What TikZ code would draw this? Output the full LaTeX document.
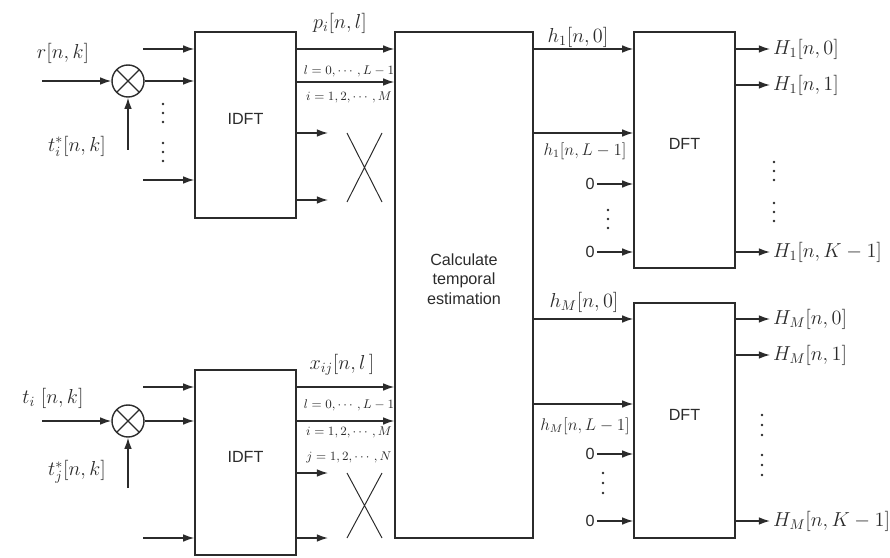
\documentclass[tikz,border=0pt]{standalone}
\usepackage{amsmath,amssymb}
\usepackage{fontspec}
\newfontfamily\arialfont{Liberation Sans}
\usepackage{tikz}
\usetikzlibrary{arrows.meta}
\usetikzlibrary{fit}
\definecolor{ink}{HTML}{2B2B2B}

\tikzset{
  blk/.style={draw=ink, line width=1pt, inner sep=0pt, align=center, text=ink,
    font=\arialfont\fontsize{11.5}{14}\selectfont},
  sig/.style={draw=ink, line width=1pt, -{Latex[length=8pt,width=5.5pt]}},
  lbl/.style={text=ink, inner sep=2pt, font=\fontsize{14.4}{16}\selectfont},
  lblnarrow/.style={lbl, font=\fontsize{12}{14}\selectfont},
  idx/.style={text=ink, inner sep=0pt, font=\fontsize{9}{10}\selectfont},
  zero/.style={text=ink, inner sep=1.5pt, font=\arialfont\fontsize{11.5}{14}\selectfont},
  mult/.style={circle, draw=ink, line width=1pt, minimum size=0.8cm, inner sep=0pt,
    path picture={\draw[ink, line width=1pt]
      (path picture bounding box.south west) -- (path picture bounding box.north east)
      (path picture bounding box.north west) -- (path picture bounding box.south east);}}
}

\begin{document}
\begin{tikzpicture}[x=0.025cm, y=-0.025cm]
\useasboundingbox (0,0) rectangle (890,558);

    \node[blk, fit={(195,32) (296,218)}] (idftA) {IDFT};
    \node[blk, fit={(195,370) (296,555)}] (idftB) {IDFT};
    \node[blk, fit={(395,32) (533,538)}] (calc) {Calculate\\temporal\\estimation};
    \node[blk, fit={(634,32) (735,268)}] (dftA) {DFT};
    \node[blk, fit={(634,303) (735,538)}] (dftB) {DFT};
    \node[mult] (mulA) at (128,81) {};
    \node[mult] (mulB) at (128,421) {};

    % upper branch
    \coordinate (rin) at (42,81);
    \coordinate (tinA) at (128,150);
    \draw[sig] (rin) -- (mulA);
    \draw[sig] (tinA) -- (mulA);
    \node[lbl] (rlab) at (63,53) {$r[n,k]$};
    \node[lbl] (tlabA) at (77,146) {$t_i^*[n,k]$};
    \coordinate (inA1) at (143,49);
    \coordinate (inA3) at (143,180);
    \draw[sig] (inA1) -- (idftA.west |- inA1);
    \draw[sig] (mulA) -- (idftA.west |- mulA);
    \draw[sig] (inA3) -- (idftA.west |- inA3);
    \foreach \y in {104,113,122,143,152,161} \fill[ink] (163,\y) circle (1pt);

    \draw[sig] (idftA.east |- inA1) -- (calc.west |- inA1);
    \draw[sig] (idftA.east |- 0,82) -- (calc.west |- 0,82);
    \coordinate (xA1) at (328,133);
    \coordinate (xA2) at (328,200);
    \draw[sig] (idftA.east |- xA1) -- (xA1);
    \draw[sig] (idftA.east |- xA2) -- (xA2);
    \draw[ink, line width=0.7pt] (347,133) -- (382,202) (347,202) -- (382,133);
    \node[lbl] (plab) at (340,23) {$p_i[n,l]$};
    \node[idx] (lrA) at (349,71) {$l=0,\cdots,L-1$};
    \node[idx] (irA) at (349,97) {$i=1,2,\cdots,M$};

    \draw[sig] (calc.east |- inA1) -- (dftA.west |- inA1);
    \draw[sig] (calc.east |- 0,133) -- (dftA.west |- 0,133);
    \node[lbl] (hA0) at (578,37) {$h_1[n,0]$};
    \node[lblnarrow] (hAL) at (585,151) {$h_1[n,L-1]$};
    \node[zero] (zA1) at (590,184) {0};
    \node[zero] (zA2) at (590,252) {0};
    \draw[sig] (zA1) -- (dftA.west |- zA1);
    \draw[sig] (zA2) -- (dftA.west |- zA2);
    \foreach \y in {210,219,228} \fill[ink] (608,\y) circle (1pt);

    \node[lbl, anchor=west] (HA0) at (770,49) {$H_1[n,0]$};
    \node[lbl, anchor=west] (HA1) at (770,85) {$H_1[n,1]$};
    \node[lbl, anchor=west] (HAK) at (770,252) {$H_1[n,K-1]$};
    \draw[sig] (dftA.east |- HA0) -- (HA0);
    \draw[sig] (dftA.east |- HA1) -- (HA1);
    \draw[sig] (dftA.east |- HAK) -- (HAK);
    \foreach \y in {162,171,180,203,212,221} \fill[ink] (774,\y) circle (1pt);

    % lower branch
    \coordinate (tiin) at (42,421);
    \coordinate (tinB) at (128,488);
    \draw[sig] (tiin) -- (mulB);
    \draw[sig] (tinB) -- (mulB);
    \node[lbl] (tilab) at (53,398) {$t_i\;[n,k]$};
    \node[lbl] (tjlab) at (77,472) {$t_j^*[n,k]$};
    \coordinate (inB1) at (143,387);
    \coordinate (inB3) at (143,538);
    \draw[sig] (inB1) -- (idftB.west |- inB1);
    \draw[sig] (mulB) -- (idftB.west |- mulB);
    \draw[sig] (inB3) -- (idftB.west |- inB3);

    \draw[sig] (idftB.east |- inB1) -- (calc.west |- inB1);
    \draw[sig] (idftB.east |- mulB) -- (calc.west |- mulB);
    \coordinate (xB1) at (328,473);
    \coordinate (xB2) at (328,538);
    \draw[sig] (idftB.east |- xB1) -- (xB1);
    \draw[sig] (idftB.east |- xB2) -- (xB2);
    \draw[ink, line width=0.7pt] (347,473) -- (382,538) (347,538) -- (382,473);
    \node[lbl] (xlab) at (342,365) {$x_{ij}[n,l\,]$};
    \node[idx] (lrB) at (349,405) {$l=0,\cdots,L-1$};
    \node[idx] (irB) at (349,432) {$i=1,2,\cdots,M$};
    \node[idx] (jrB) at (349,457) {$j=1,2,\cdots,N$};

    \draw[sig] (calc.east |- 0,319) -- (dftB.west |- 0,319);
    \draw[sig] (calc.east |- 0,404) -- (dftB.west |- 0,404);
    \node[lbl] (hB0) at (584,302) {$h_M[n,0]$};
    \node[lblnarrow] (hBL) at (585,426) {$h_M[n,L-1]$};
    \node[zero] (zB1) at (590,454) {0};
    \node[zero] (zB2) at (590,521) {0};
    \draw[sig] (zB1) -- (dftB.west |- zB1);
    \draw[sig] (zB2) -- (dftB.west |- zB2);
    \foreach \y in {473,483,493} \fill[ink] (603,\y) circle (1pt);

    \node[lbl, anchor=west] (HB0) at (770,319) {$H_M[n,0]$};
    \node[lbl, anchor=west] (HB1) at (770,355) {$H_M[n,1]$};
    \node[lbl, anchor=west] (HBK) at (770,521) {$H_M[n,K-1]$};
    \draw[sig] (dftB.east |- HB0) -- (HB0);
    \draw[sig] (dftB.east |- HB1) -- (HB1);
    \draw[sig] (dftB.east |- HBK) -- (HBK);
    \foreach \y in {415,425,435,455,465,475} \fill[ink] (762,\y) circle (1pt);
\end{tikzpicture}
\end{document}
